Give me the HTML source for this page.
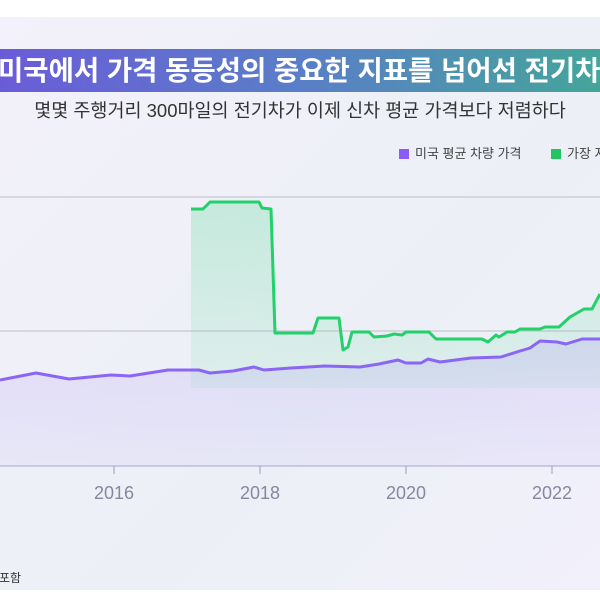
<!DOCTYPE html>
<html><head><meta charset="utf-8"><style>
html,body{margin:0;padding:0;width:600px;height:600px;overflow:hidden;background:#fff;font-family:"Liberation Sans","Noto Sans CJK KR",sans-serif}
#card{position:absolute;left:0;top:17px;width:600px;height:573px;background:linear-gradient(135deg,#f3f1fb,#ecf0f6 60%,#f2f0fb)}
#title{position:absolute;left:0;top:49px;width:600px;height:43px;background:linear-gradient(90deg,#6a5cd8,#5a7ec8 50%,#44a59a);color:#fff;font-weight:bold;font-size:27.5px;line-height:43px;white-space:nowrap;text-align:center;overflow:hidden}
#title span{display:inline-block;width:600px;margin-left:-4px}
#sub{position:absolute;left:0;top:97px;width:600px;text-align:center;font-size:18.5px;color:#333;white-space:nowrap}
.leg{position:absolute;top:143px;font-size:13px;color:#444;white-space:nowrap}
.sq{display:inline-block;width:10px;height:10px;margin-right:6px;vertical-align:-1px}
</style></head><body>
<div id="card"></div>
<div id="title"><span>미국에서 가격 동등성의 중요한 지표를 넘어선 전기차</span></div>
<div id="sub">몇몇 주행거리 300마일의 전기차가 이제 신차 평균 가격보다 저렴하다</div>
<div class="leg" style="left:399px"><span class="sq" style="background:#8b5cf6"></span>미국 평균 차량 가격</div>
<div class="leg" style="left:551px"><span class="sq" style="background:#22c55e"></span>가장 저렴한 전기차</div>
<svg width="600" height="600" style="position:absolute;left:0;top:0">
<defs>
<linearGradient id="gg" x1="0" y1="0" x2="0" y2="1"><stop offset="0" stop-color="#34d17a" stop-opacity="0.22"/><stop offset="1" stop-color="#34d17a" stop-opacity="0.08"/></linearGradient>
<linearGradient id="pg" x1="0" y1="0" x2="0" y2="1"><stop offset="0" stop-color="#9b7cf0" stop-opacity="0.18"/><stop offset="1" stop-color="#9b7cf0" stop-opacity="0.08"/></linearGradient>
</defs>
<line x1="0" y1="197" x2="600" y2="197" stroke="#c8c6d4" stroke-width="1.2"/>
<line x1="0" y1="331" x2="600" y2="331" stroke="#c8c6d4" stroke-width="1.2"/>
<line x1="0" y1="466" x2="600" y2="466" stroke="#b8b4d8" stroke-width="1.2"/>
<polygon fill="url(#gg)" points="191,388 191,209 203,209 210,202 259,202 262,208 271,209 275,333 313,333 318,318 339,318 343,350 348,347 352,332 369,332 374,337 387,336 394,334 402,335 406,332 429,332 436,339 482,339 488,342 496,335 499,337 507,332 515,332 520,329 540,329 545,327 559,327 570,317 584,309 592,309 600,294 600,388"/>
<polygon fill="url(#pg)" points="0,466 0,380 36,373 69,379 111,375 130,376 168,370 199,370 210,373 233,371 254,367 264,370 291,368 325,366 360,367 379,364 398,360 406,363 421,363 428,359 440,362 471,358 501,357 520,351 530,348 540,341 557,342 566,344 582,339 600,339 600,466"/>
<polyline fill="none" stroke="#22d16a" stroke-width="3" stroke-linejoin="round" points="191,209 203,209 210,202 259,202 262,208 271,209 275,333 313,333 318,318 339,318 343,350 348,347 352,332 369,332 374,337 387,336 394,334 402,335 406,332 429,332 436,339 482,339 488,342 496,335 499,337 507,332 515,332 520,329 540,329 545,327 559,327 570,317 584,309 592,309 600,294"/>
<polyline fill="none" stroke="#8b65f5" stroke-width="3" stroke-linejoin="round" points="0,380 36,373 69,379 111,375 130,376 168,370 199,370 210,373 233,371 254,367 264,370 291,368 325,366 360,367 379,364 398,360 406,363 421,363 428,359 440,362 471,358 501,357 520,351 530,348 540,341 557,342 566,344 582,339 600,339"/>
<g stroke="#a09cb8" stroke-width="1"><line x1="114" y1="466" x2="114" y2="474"/><line x1="260" y1="466" x2="260" y2="474"/><line x1="406" y1="466" x2="406" y2="474"/><line x1="552" y1="466" x2="552" y2="474"/></g>
<g font-family="Liberation Sans, sans-serif" font-size="18" fill="#8a86a0" text-anchor="middle"><text x="114" y="499">2016</text><text x="260" y="499">2018</text><text x="406" y="499">2020</text><text x="552" y="499">2022</text></g>
<text x="-1" y="582" font-size="12" fill="#333" font-family="Liberation Sans, Noto Sans CJK KR, sans-serif">포함</text>
</svg>
</body></html>
